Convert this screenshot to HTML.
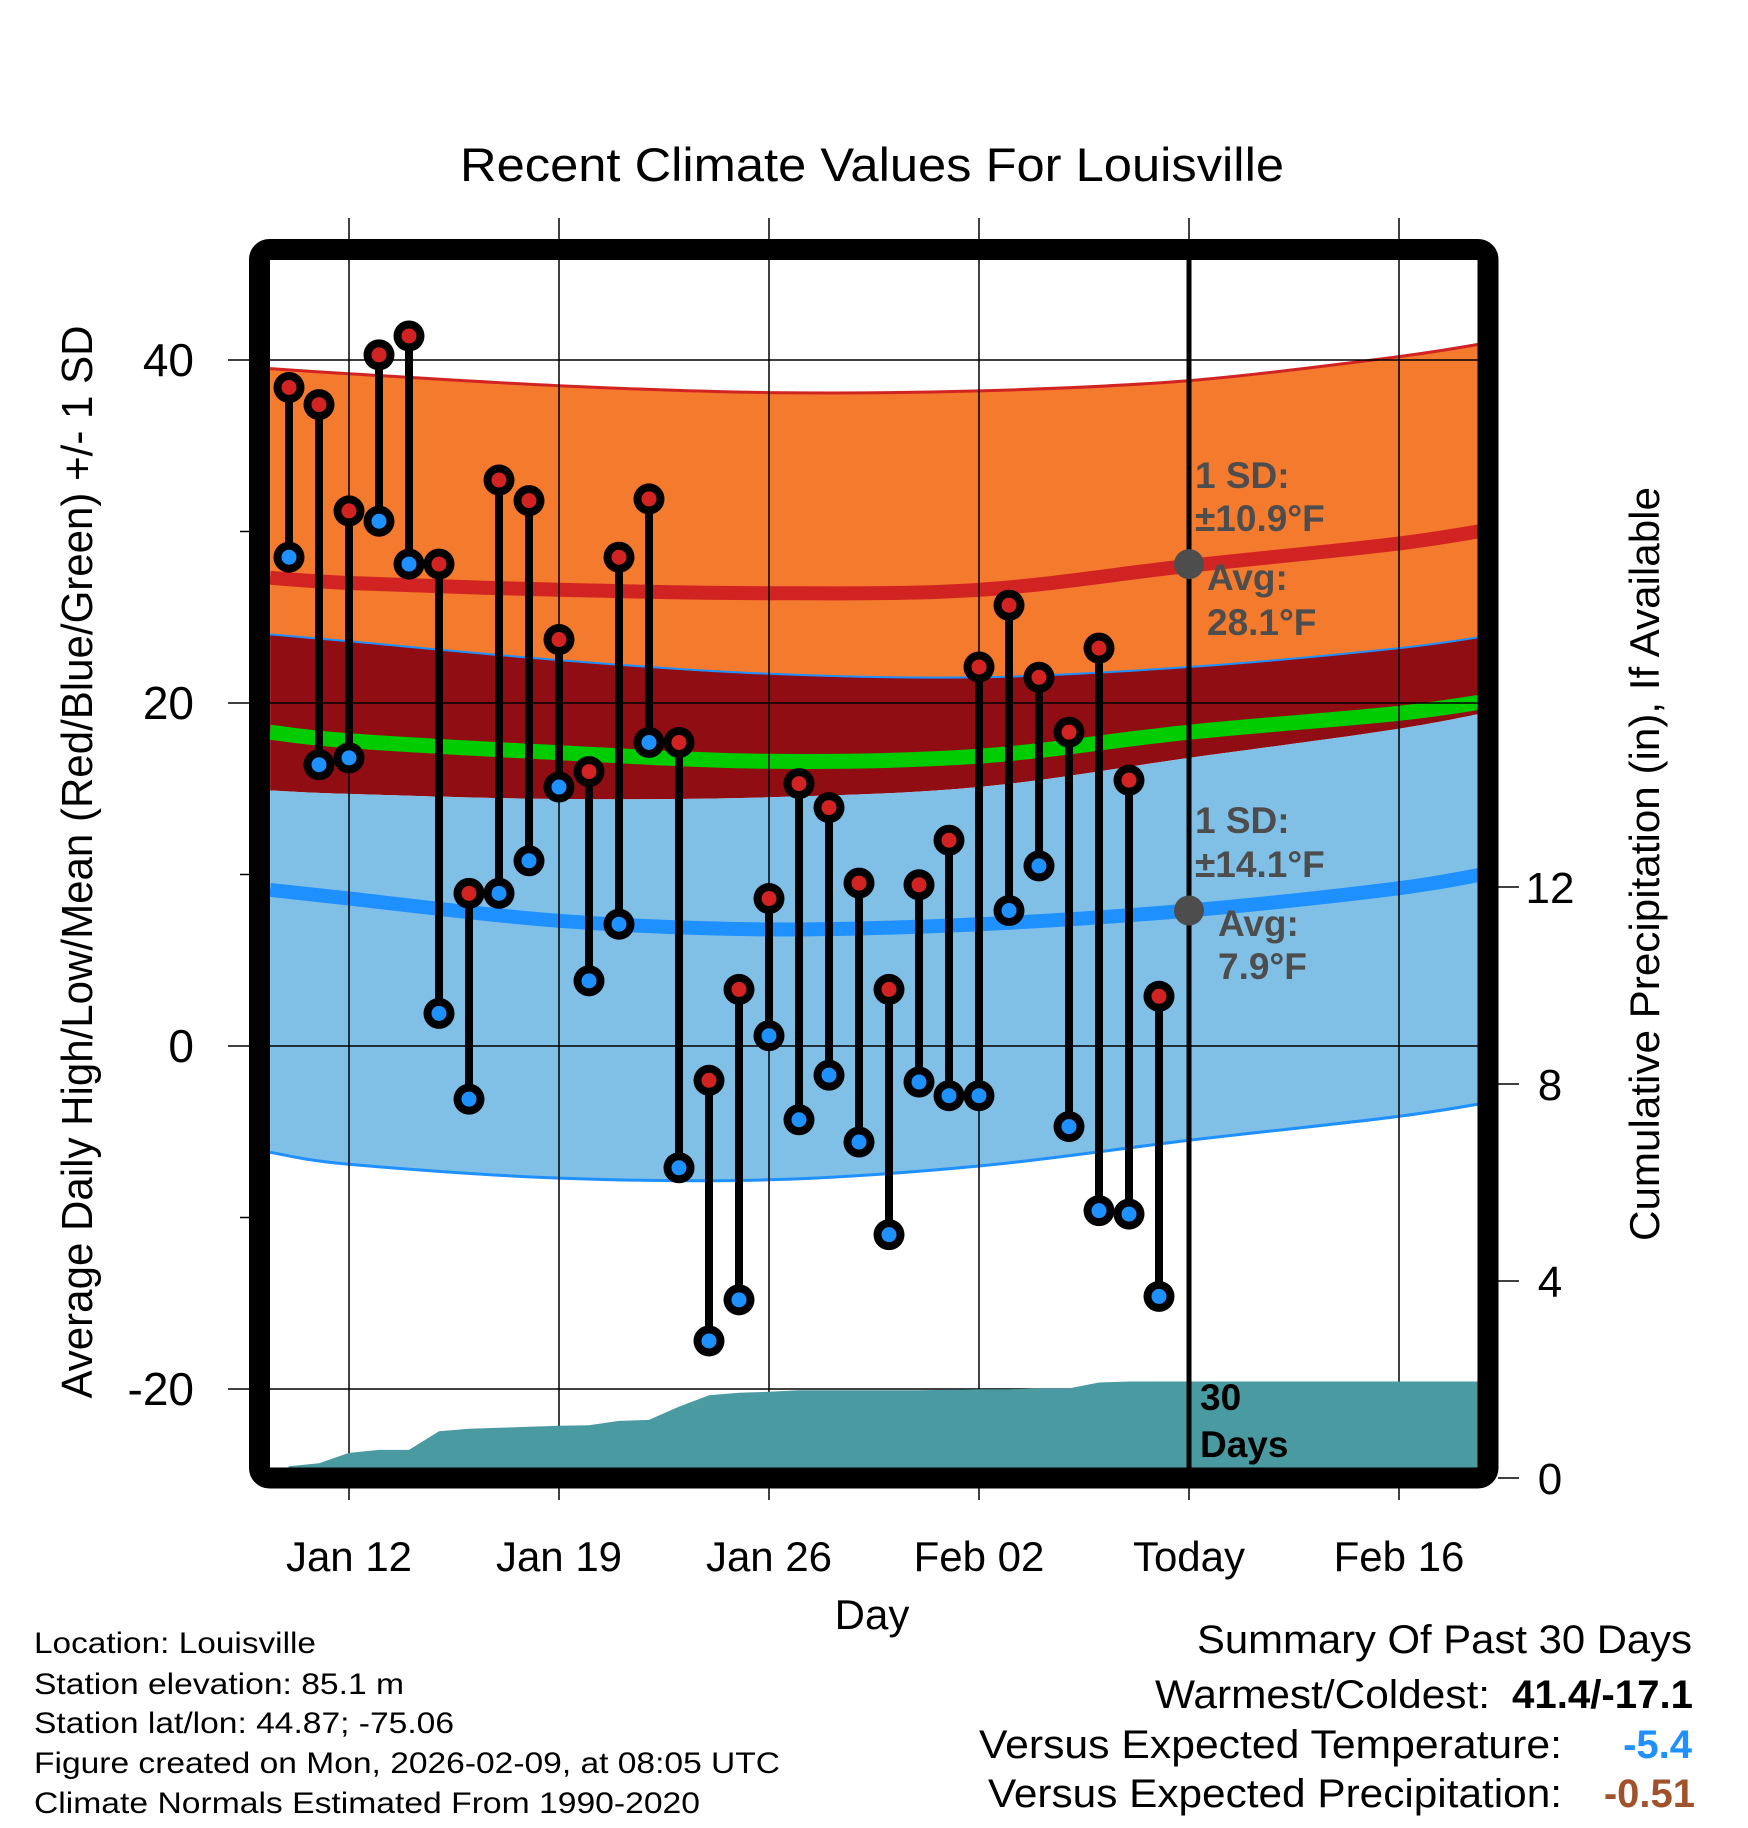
<!DOCTYPE html>
<html><head><meta charset="utf-8"><style>
html,body{margin:0;padding:0;background:#fff;}
svg{display:block;font-family:"Liberation Sans",sans-serif;}
</style></head><body>
<svg id="chart" width="1748" height="1828" viewBox="0 0 1748 1828" xmlns="http://www.w3.org/2000/svg">
<defs><clipPath id="plotclip"><rect x="270" y="260" width="1208" height="1208"/></clipPath></defs>
<g id="bands" clip-path="url(#plotclip)"></g>
<g id="grid"></g>
<g id="precip" clip-path="url(#plotclip)"></g>
<g id="today"></g>
<g id="marks"></g>
<rect x="259.5" y="249.5" width="1228.5" height="1228.5" rx="10" fill="none" stroke="#000" stroke-width="21"/>
<g id="axes"></g>
<text x="872" y="181" font-size="47" text-anchor="middle" textLength="824" lengthAdjust="spacingAndGlyphs">Recent Climate Values For Louisville</text>
<text transform="translate(92,862) rotate(-90)" font-size="44" text-anchor="middle" textLength="1073" lengthAdjust="spacingAndGlyphs">Average Daily High/Low/Mean (Red/Blue/Green) +/- 1 SD</text>
<text transform="translate(1659,864) rotate(-90)" font-size="42" text-anchor="middle" textLength="754" lengthAdjust="spacingAndGlyphs">Cumulative Precipitation (in), If Available</text>
<text x="872" y="1629" font-size="42" text-anchor="middle">Day</text>
<g font-weight="bold" font-size="37" fill="#4d4d4d">
<text x="1195" y="488">1 SD:</text>
<text x="1195" y="531">±10.9°F</text>
<text x="1207" y="590">Avg:</text>
<text x="1207" y="635">28.1°F</text>
<text x="1195" y="833">1 SD:</text>
<text x="1195" y="877">±14.1°F</text>
<text x="1218" y="936">Avg:</text>
<text x="1218" y="979">7.9°F</text>
</g>
<text font-weight="bold" font-size="37" x="1200" y="1410">30</text>
<text font-weight="bold" font-size="37" x="1200" y="1457">Days</text>
<g font-size="30">
<text x="34" y="1653" textLength="282" lengthAdjust="spacingAndGlyphs">Location: Louisville</text>
<text x="34" y="1694" textLength="370" lengthAdjust="spacingAndGlyphs">Station elevation: 85.1 m</text>
<text x="34" y="1733" textLength="420" lengthAdjust="spacingAndGlyphs">Station lat/lon: 44.87; -75.06</text>
<text x="34" y="1773" textLength="746" lengthAdjust="spacingAndGlyphs">Figure created on Mon, 2026-02-09, at 08:05 UTC</text>
<text x="34" y="1813" textLength="666" lengthAdjust="spacingAndGlyphs">Climate Normals Estimated From 1990-2020</text>
</g>
<g font-size="40">
<text x="1692" y="1653" text-anchor="end" textLength="495" lengthAdjust="spacingAndGlyphs">Summary Of Past 30 Days</text>
<text x="1490" y="1708" text-anchor="end" textLength="335" lengthAdjust="spacingAndGlyphs">Warmest/Coldest:</text>
<text x="1693" y="1708" text-anchor="end" font-weight="bold" textLength="181" lengthAdjust="spacingAndGlyphs">41.4/-17.1</text>
<text x="1562" y="1758" text-anchor="end" textLength="583" lengthAdjust="spacingAndGlyphs">Versus Expected Temperature:</text>
<text x="1692" y="1758" text-anchor="end" font-weight="bold" fill="#1e90ff">-5.4</text>
<text x="1562" y="1807" text-anchor="end" textLength="574" lengthAdjust="spacingAndGlyphs">Versus Expected Precipitation:</text>
<text x="1695" y="1807" text-anchor="end" font-weight="bold" fill="#a0522d">-0.51</text>
</g>
</svg>
<script>
// ---- data ----
const dayLabels = ["Jan 12","Jan 19","Jan 26","Feb 02","Today","Feb 16"];
const dayTicks = [12,19,26,33,40,47];
const yTicks = [40,20,0,-20];
const yMinorTicks = [30,10,-10];
const y2Ticks = [0,4,8,12];
const obsDays = [10,11,12,13,14,15,16,17,18,19,20,21,22,23,24,25,26,27,28,29,30,31,32,33,34,35,36,37,38,39];
const highs = [38.4,37.4,31.2,40.3,41.4,28.1,8.9,33.0,31.8,23.7,16.0,28.5,31.9,17.7,-2.0,3.3,8.6,15.3,13.9,9.5,3.3,9.4,12.0,22.1,25.7,21.5,18.3,23.2,15.5,2.9];
const lows = [28.5,16.4,16.8,30.6,28.1,1.9,-3.1,8.9,10.8,15.1,3.8,7.1,17.7,-7.1,-17.2,-14.8,0.6,-4.3,-1.7,-5.6,-11.0,-2.1,-2.9,-2.9,7.9,10.5,-4.7,-9.6,-9.8,-14.6];
const precip = [0.24,0.30,0.51,0.57,0.57,0.95,1.00,1.02,1.04,1.06,1.07,1.16,1.18,1.45,1.68,1.73,1.75,1.78,1.78,1.78,1.78,1.78,1.79,1.80,1.80,1.82,1.82,1.94,1.96,1.96];
const normDays = [9.37,12,19,26,33,40,47,50.6];
const highUpper = [39.5,39.2,38.5,38.1,38.2,38.8,40.2,41.2];
const highMean = [27.3,27.0,26.6,26.4,26.6,28.0,29.3,30.3];
const highLower = [24.0,23.6,22.5,21.7,21.5,22.1,23.2,24.1];
const meanAvg = [18.3,17.8,17.1,16.6,16.9,18.3,19.4,20.3];
const lowUpper = [14.9,14.7,14.4,14.5,15.1,16.8,18.5,19.7];
const lowMean = [9.1,8.6,7.3,6.8,7.1,7.9,9.2,10.3];
const lowLower = [-6.2,-6.9,-7.7,-7.8,-7.0,-5.5,-4.1,-3.1];
const todayDay = 40;
const todayHigh = 28.1, todayLow = 7.9;

// ---- scales ----
const X = d => 349 + (d - 12) * 30;
const Y = t => 1046 - t * 17.15;
const Y2 = p => 1478 - p * 49.25;
const NS = "http://www.w3.org/2000/svg";
function mk(tag, attrs, parent){ const e=document.createElementNS(NS,tag); for(const k in attrs) e.setAttribute(k,attrs[k]); parent.appendChild(e); return e; }
// smooth (Catmull-Rom) path through the normal points
function smooth(days, vals, start){
  const p = days.map((d,i)=>[X(d),Y(vals[i])]);
  let s = (start ? "M" : "L") + p[0][0].toFixed(1)+","+p[0][1].toFixed(1);
  for(let i=0;i<p.length-1;i++){
    const p0=p[Math.max(0,i-1)], p1=p[i], p2=p[i+1], p3=p[Math.min(p.length-1,i+2)];
    const c1=[p1[0]+(p2[0]-p0[0])/6, p1[1]+(p2[1]-p0[1])/6];
    const c2=[p2[0]-(p3[0]-p1[0])/6, p2[1]-(p3[1]-p1[1])/6];
    s += "C"+c1[0].toFixed(1)+","+c1[1].toFixed(1)+" "+c2[0].toFixed(1)+","+c2[1].toFixed(1)+" "+p2[0].toFixed(1)+","+p2[1].toFixed(1);
  }
  return s;
}
function bandPath(days, top, bot){
  const rd = days.slice().reverse(), rb = bot.slice().reverse();
  return smooth(days, top, true) + smooth(rd, rb, false) + "Z";
}
const bands = document.getElementById("bands");
let e;
e = mk("path",{d:bandPath(normDays,highUpper,highLower),fill:"#f47a2e"},bands);


e = mk("path",{d:bandPath(normDays,highLower,lowUpper),fill:"#910d14"},bands);


e = mk("path",{d:bandPath(normDays,lowUpper,lowLower),fill:"#80c0e6"},bands);


const lineDefs = [
  [highUpper,"#d22323",3,"high-upper-line"],
  [highLower,"#1e90ff",2,"high-lower-line"],
  [lowLower,"#1e90ff",3,"low-lower-line"],
  [highMean,"#d22323",14,"high-mean-line"],
  [meanAvg,"#00cc00",15,"mean-line"],
  [lowMean,"#1e90ff",14,"low-mean-line"]
];
lineDefs.forEach(ld=>{
  e = mk("path",{d:smooth(normDays,ld[0],true),fill:"none",stroke:ld[1],"stroke-width":ld[2]},bands);
  
  
});

// grid
const grid = document.getElementById("grid");
dayTicks.forEach(d=>{
  e = mk("line",{x1:X(d),x2:X(d),y1:218,y2:1500,stroke:"#000","stroke-width":1.5},grid);
  
  
});
yTicks.forEach(t=>{
  e = mk("line",{x1:228,x2:1478,y1:Y(t),y2:Y(t),stroke:"#000","stroke-width":1.5},grid);
  
  
});

// precip
const pg = document.getElementById("precip");
let pts = [X(obsDays[0])-7+","+1478];
obsDays.forEach((d,i)=>pts.push(X(d)+","+Y2(precip[i]).toFixed(1)));
pts.push("1480,"+Y2(precip[precip.length-1]).toFixed(1));
pts.push("1480,1478");
e = mk("polygon",{points:pts.join(" "),fill:"#4a9aa2"},pg);



// today
const tg = document.getElementById("today");
e = mk("line",{x1:X(todayDay),x2:X(todayDay),y1:260,y2:1470,stroke:"#000","stroke-width":5},tg);


[todayHigh,todayLow].forEach(v=>{
  e = mk("circle",{cx:X(todayDay),cy:Y(v),r:15,fill:"#4d4d4d"},tg);
  
  
});

// marks
const mg = document.getElementById("marks");
obsDays.forEach((d,i)=>{
  const x = X(d);
  e = mk("line",{x1:x,x2:x,y1:Y(highs[i]),y2:Y(lows[i]),stroke:"#000","stroke-width":8},mg);
  
  
});
obsDays.forEach((d,i)=>{
  const x = X(d);
  [[lows[i],"#1e90ff","low-point"],[highs[i],"#d22323","high-point"]].forEach(p=>{
    e = mk("circle",{cx:x,cy:Y(p[0]),r:15.5,fill:"#000"},mg);
    
    
    e = mk("circle",{cx:x,cy:Y(p[0]),r:7.5,fill:p[1]},mg);
    
    
  });
});

// axes
const ax = document.getElementById("axes");
yTicks.forEach(t=>{
  e = mk("text",{x:194,y:Y(t)+16,"font-size":46,"text-anchor":"end"},ax);
  e.textContent = t;
  
  
});
yMinorTicks.forEach(t=>{
  e = mk("line",{x1:240,x2:250,y1:Y(t),y2:Y(t),stroke:"#000","stroke-width":1.5},ax);
  
  
});
y2Ticks.forEach(p=>{
  e = mk("line",{x1:1498,x2:1519,y1:Y2(p),y2:Y2(p),stroke:"#000","stroke-width":1.5},ax);
  
  
  e = mk("text",{x:1550,y:Y2(p)+16,"font-size":44,"text-anchor":"middle"},ax);
  e.textContent = p;
  
  
});
dayTicks.forEach((d,i)=>{
  e = mk("text",{x:X(d),y:1571,"font-size":42,"text-anchor":"middle"},ax);
  e.textContent = dayLabels[i];
  
  
});
</script>
</body></html>
